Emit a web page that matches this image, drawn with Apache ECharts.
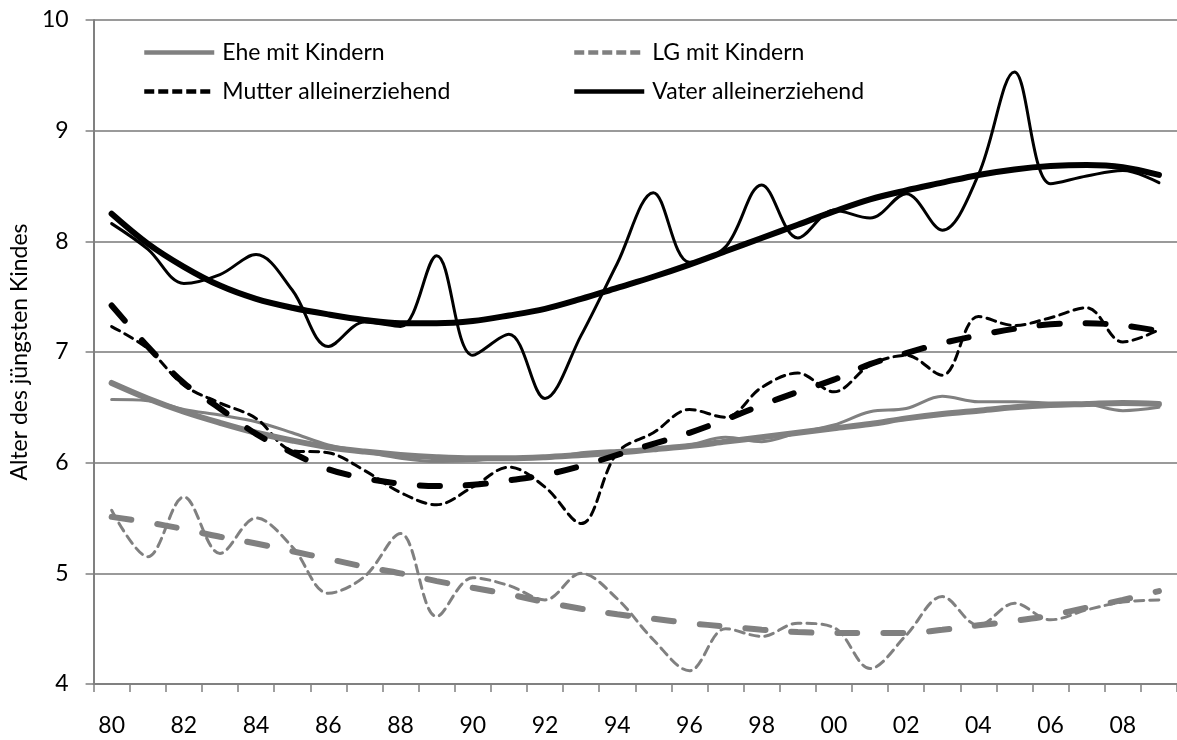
<!DOCTYPE html>
<html>
<head>
<meta charset="utf-8">
<script src="https://cdn.jsdelivr.net/npm/echarts@6/dist/echarts.min.js"></script>
<style>html,body{margin:0;padding:0;background:#fff}#c{width:1177px;height:740px}</style>
</head>
<body>
<div id="c"></div>
<script>
const years = ['80','81','82','83','84','85','86','87','88','89','90','91','92','93','94','95','96','97','98','99','00','01','02','03','04','05','06','07','08','09'];
const eheMitKindern = [6.57,6.56,6.48,6.43,6.37,6.27,6.16,6.10,6.04,6.01,6.02,6.04,6.04,6.09,6.11,6.12,6.16,6.23,6.19,6.27,6.34,6.46,6.49,6.60,6.55,6.55,6.54,6.53,6.47,6.50];
const lgMitKindern = [5.57,5.15,5.69,5.18,5.50,5.24,4.82,4.97,5.36,4.61,4.96,4.89,4.76,5.00,4.77,4.40,4.12,4.50,4.43,4.55,4.51,4.14,4.44,4.79,4.53,4.73,4.58,4.67,4.74,4.76];
const mutterAllein = [7.23,7.03,6.70,6.54,6.40,6.11,6.09,5.93,5.73,5.62,5.78,5.96,5.78,5.45,6.09,6.27,6.48,6.41,6.68,6.81,6.64,6.88,6.97,6.79,7.32,7.24,7.31,7.40,7.09,7.20];
const vaterAllein = [8.16,7.93,7.62,7.70,7.88,7.56,7.05,7.27,7.23,7.87,6.97,7.16,6.58,7.15,7.80,8.44,7.81,7.95,8.51,8.03,8.28,8.21,8.43,8.10,8.60,9.53,8.52,8.59,8.64,8.53];
const eheTrend = [6.72,6.58,6.46,6.36,6.27,6.20,6.14,6.10,6.07,6.05,6.04,6.04,6.05,6.07,6.09,6.12,6.15,6.19,6.23,6.27,6.31,6.35,6.40,6.44,6.47,6.50,6.52,6.53,6.54,6.53];
const lgTrend = [5.51,5.46,5.40,5.33,5.27,5.20,5.13,5.06,5.00,4.93,4.87,4.81,4.74,4.68,4.63,4.59,4.55,4.52,4.49,4.47,4.46,4.46,4.46,4.49,4.53,4.57,4.62,4.69,4.76,4.84];
const mutterTrend = [7.42,7.05,6.72,6.49,6.26,6.09,5.94,5.86,5.81,5.79,5.80,5.84,5.89,5.97,6.07,6.17,6.27,6.39,6.52,6.64,6.75,6.89,6.99,7.08,7.15,7.21,7.25,7.26,7.24,7.19];
const vaterTrend = [8.25,7.98,7.77,7.60,7.48,7.40,7.34,7.29,7.26,7.26,7.28,7.33,7.39,7.48,7.58,7.68,7.79,7.91,8.03,8.15,8.27,8.38,8.46,8.53,8.60,8.65,8.68,8.69,8.67,8.60];
const yTicks = [4,5,6,7,8,9,10];
const yTitle = 'Alter des jüngsten Kindes';
const names = ['Ehe mit Kindern','LG mit Kindern','Mutter alleinerziehend','Vater alleinerziehend'];

const FONT = 'Lato';
const FS = 23;
const GRAY = '#808080';
const chart = echarts.init(document.getElementById('c'));
function leg(name, left, top, dashed){
  return {data:[name], left:left, top:top, itemWidth:70, itemHeight:14, itemGap:0,
    textStyle:{fontFamily:FONT,fontSize:FS,color:'#000',padding:[0,0,0,3]},
    lineStyle:{width:4.5, type: dashed ? [10,4] : 'solid', cap:'butt'},
    itemStyle:{opacity:0}, selectedMode:false};
}
function line(name, data, color, width, type, z){
  return {name:name, type:'line', data:data, smooth:0.35, symbol:'none', z:z,
    lineStyle:{color:color, width:width, type:type, cap:'round'}, itemStyle:{color:color}, animation:false};
}
chart.setOption({
  animation:false,
  grid:{left:93, top:20, right:0, bottom:56, containLabel:false},
  legend:[leg(names[0],137,36,false), leg(names[1],567,36,true), leg(names[2],137,75,true), leg(names[3],567,75,false)],
  xAxis:{type:'category', data:years, boundaryGap:true,
    axisLine:{lineStyle:{color:GRAY,width:2}},
    axisTick:{show:true, interval:0, length:8, lineStyle:{color:GRAY,width:1.5}},
    axisLabel:{interval:1, margin:30, fontFamily:FONT, fontSize:FS, color:'#000'}},
  yAxis:{type:'value', min:yTicks[0], max:yTicks[yTicks.length-1], interval:1,
    name:yTitle, nameLocation:'middle', nameGap:60, nameRotate:90,
    nameTextStyle:{fontFamily:FONT,fontSize:FS,color:'#000'},
    axisLine:{show:true,lineStyle:{color:GRAY,width:2}},
    axisTick:{show:true,length:8,lineStyle:{color:GRAY,width:1.5}},
    axisLabel:{margin:25, fontFamily:FONT, fontSize:FS, color:'#000'},
    splitLine:{lineStyle:{color:'#9a9a9a',width:2}}},
  series:[
    line(names[0], eheMitKindern, GRAY, 3, 'solid', 2),
    line(names[1], lgMitKindern, GRAY, 3, [9,6], 2),
    line(names[2], mutterAllein, '#000', 3, [9,6], 2),
    line(names[3], vaterAllein, '#000', 3, 'solid', 2),
    line('t1', eheTrend, GRAY, 6, 'solid', 3),
    line('t2', lgTrend, GRAY, 6, [20,26], 3),
    line('t3', mutterTrend, '#000', 6, [20,26], 3),
    line('t4', vaterTrend, '#000', 6, 'solid', 3)
  ]
});
</script>
</body>
</html>
